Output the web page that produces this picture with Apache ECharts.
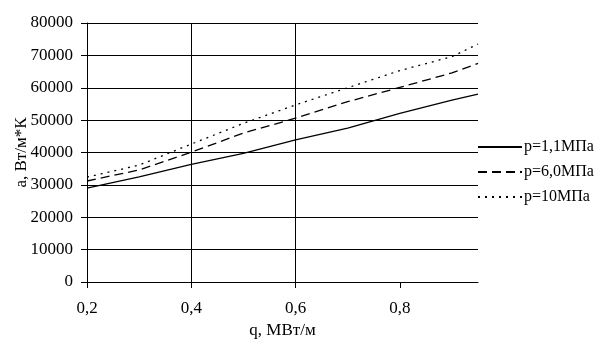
<!DOCTYPE html>
<html>
<head>
    <meta charset="utf-8">
    <title>a(q)</title>
    <script src="https://cdn.jsdelivr.net/npm/echarts@6/dist/echarts.min.js"></script>
    <style>
        html, body { margin: 0; padding: 0; background: #ffffff; }
        #chart { width: 606px; height: 354px; }
    </style>
</head>
<body>
<div id="chart"></div>
<script>
    // данные
    var qValues = [0.2, 0.3, 0.4, 0.5, 0.6, 0.7, 0.8, 0.9, 0.95];
    var p11 = [29000, 32500, 36300, 39700, 43900, 47500, 52100, 56200, 58000];
    var p60 = [31200, 34600, 40100, 46000, 50600, 55700, 60100, 64600, 67500];
    var p10 = [32400, 36100, 42600, 49000, 54700, 60000, 65300, 69600, 73500];
    var seriesNames = ['p=1,1МПа', 'p=6,0МПа', 'p=10МПа'];
    var xTicks = [0.2, 0.4, 0.6, 0.8];

    function pairs(ys) {
        return qValues.map(function (q, i) { return [q, ys[i]]; });
    }

    var font = '"Liberation Serif", "DejaVu Serif", serif';
    var chart = echarts.init(document.getElementById('chart'), null, { renderer: 'canvas' });

    var option = {
        animation: false,
        backgroundColor: '#ffffff',
        textStyle: { fontFamily: font, color: '#000' },
        grid: { left: 87, right: 128, top: 23, bottom: 72, containLabel: false, outerBoundsMode: 'none' },
        legend: {
            orient: 'vertical',
            left: 477,
            top: 139,
            padding: 0,
            itemWidth: 44,
            itemHeight: 10,
            itemGap: 9,
            itemStyle: { opacity: 0 },
            textStyle: { fontFamily: font, fontSize: 16, color: '#000', padding: [0, 0, 0, -3] },
            data: seriesNames
        },
        xAxis: {
            type: 'value',
            min: 0.2,
            max: 0.95,
            interval: 0.2,
            name: 'q, МВт/м',
            nameLocation: 'middle',
            nameGap: 39,
            nameTextStyle: { fontFamily: font, fontSize: 17, color: '#000' },
            axisLine: { lineStyle: { color: '#000', width: 1 } },
            axisTick: { show: true, length: 6, lineStyle: { color: '#000' }, customValues: xTicks },
            axisLabel: {
                fontFamily: font, fontSize: 17, color: '#000', margin: 18,
                customValues: xTicks,
                formatter: function (v) { return v.toFixed(1).replace('.', ','); }
            },
            splitLine: { show: true, showMaxLine: false, lineStyle: { color: '#000', width: 1 } }
        },
        yAxis: {
            type: 'value',
            min: 0,
            max: 80000,
            interval: 10000,
            name: 'a, Вт/м*К',
            nameLocation: 'middle',
            nameGap: 57,
            nameMoveOverlap: false,
            nameTextStyle: { fontFamily: font, fontSize: 17, color: '#000' },
            axisLine: { show: true, lineStyle: { color: '#000', width: 1 } },
            axisTick: { show: true, length: 6, lineStyle: { color: '#000' } },
            axisLabel: {
                fontFamily: font, fontSize: 17, color: '#000', margin: 14,
                formatter: function (v) { return String(v); }
            },
            splitLine: { show: true, lineStyle: { color: '#000', width: 1 } }
        },
        series: [
            {
                name: seriesNames[0], type: 'line', data: pairs(p11), symbol: 'none',
                lineStyle: { color: '#000', width: 1.3, type: 'solid' },
                itemStyle: { color: '#000' }
            },
            {
                name: seriesNames[1], type: 'line', data: pairs(p60), symbol: 'none',
                lineStyle: { color: '#000', width: 1.3, type: [9, 5] },
                itemStyle: { color: '#000' }
            },
            {
                name: seriesNames[2], type: 'line', data: pairs(p10), symbol: 'none',
                lineStyle: { color: '#000', width: 1.3, type: [2, 5] },
                itemStyle: { color: '#000' }
            }
        ]
    };
    chart.setOption(option);
</script>
</body>
</html>
